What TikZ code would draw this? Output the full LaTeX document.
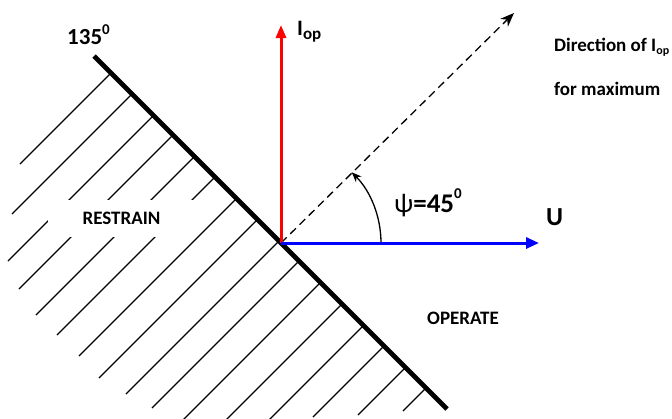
\documentclass[tikz,border=0pt]{standalone}
\usepackage{fontspec}
\setmainfont{Carlito}
\usetikzlibrary{arrows.meta}
\begin{document}
\begin{tikzpicture}[x=1pt,y=-1pt,
  hatch/.style={line width=1.3pt,black},
  divider/.style={line width=4.6pt,black},
  vecred/.style={line width=3pt,red,-{Triangle[length=13pt,width=10pt]}},
  vecblue/.style={line width=3pt,blue,-{Triangle[length=13pt,width=11pt]}},
  dirline/.style={line width=1.3pt,black,dash pattern=on 8pt off 5pt,-{Stealth[length=14pt,width=11pt]}},
  anglearc/.style={line width=1.3pt,black,-{Stealth[length=10pt,width=8pt]}},
  lbl/.style={inner sep=0pt,font=\fontsize{19}{21}\selectfont\bfseries},
  biglbl/.style={inner sep=0pt,font=\fontsize{#1}{#1}\selectfont\bfseries}
]
\clip (0,0) rectangle (672,418);
\useasboundingbox (0,0) rectangle (672,418);
% hatching of the restrain zone
\foreach \c/\lx/\ly in {184/20/164,226/12/214,269/8/261,308/19/289,351/36/315,
  392/57/335,435/79/356,477/99/378,520/126/394,560/152/408,603/183/420,
  646/226/420,689/269/420,730/313/417,773/358/415,814/403/411}{
  \draw[hatch] (\lx,\ly) -- ({(\c+38)/2},{(\c-38)/2});
}
\node[lbl,fill=white,minimum width=147pt,minimum height=37pt] (restrain) at (121.5,218.5) {RESTRAIN};
\coordinate (O) at (281,243);
\coordinate (A) at (94,56);
\coordinate (B) at (447,409);
\coordinate (D) at (514,13);
\coordinate (Itip) at (281,25);
\coordinate (Utip) at (539,243);
\draw[divider] (A) -- (B);
\draw[dirline] (O) -- (D);
\draw[anglearc] (O) ++(100,0) arc[start angle=0,end angle=-45,radius=100];
\draw[vecred] (O) -- (Itip);
\draw[vecblue] (O) -- (Utip);
% labels
\node[biglbl=23,anchor=base west] (ang) at (67,44) {135\raisebox{9.5pt}{\fontsize{15}{15}\selectfont 0}};
\node[biglbl=22,anchor=base west] (iop) at (297,35) {I\raisebox{-4.5pt}{\fontsize{17}{17}\selectfont op}};
\node[biglbl=27,anchor=base west] (psi) at (394,212) {{\mdseries ψ}=45\raisebox{14pt}{\fontsize{15}{15}\selectfont 0}};
\node[biglbl=26,anchor=base west] (u) at (546,225) {U};
\node[lbl,anchor=base west] (dir1) at (554,51) {Direction of I\raisebox{-3pt}{\fontsize{12}{12}\selectfont op}};
\node[lbl,anchor=base west] (dir2) at (554,95) {for maximum};
\node[lbl,anchor=base west] (operate) at (427,324) {OPERATE};
\end{tikzpicture}
\end{document}
